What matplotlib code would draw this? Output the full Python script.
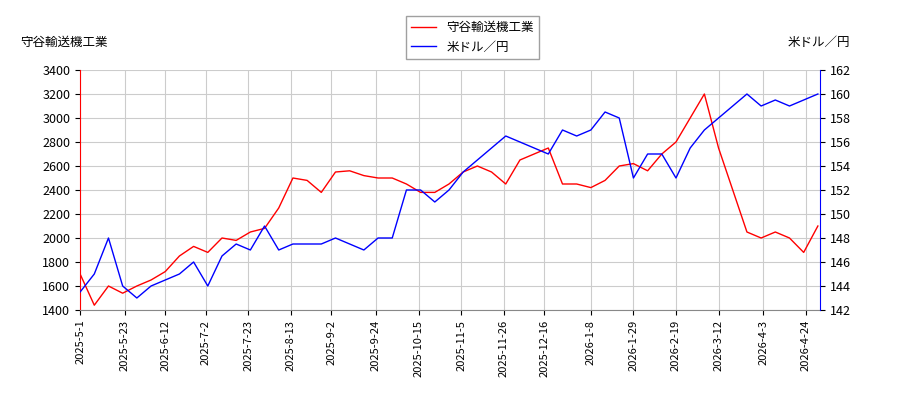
import matplotlib
matplotlib.use("Agg")
import matplotlib.pyplot as plt
import matplotlib.dates as mdates
import pandas as pd

plt.rcParams['font.family'] = ['Noto Sans CJK JP', 'DejaVu Sans']

stock_dates = pd.date_range("2025-05-01", periods=53, freq="7D")
stock = [1700,1440,1600,1540,1600,1650,1720,1850,1930,1880,2000,1980,2050,2080,2250,2500,
         2480,2380,2550,2560,2520,2500,2500,2450,2380,2380,2450,2550,2600,2550,2450,2650,
         2700,2750,2450,2450,2420,2480,2600,2620,2560,2700,2800,3000,3200,2750,2400,2050,
         2000,2050,2000,1880,2100]
fx = [143.5,145,148,144,143,144,144.5,145,146,144,146.5,147.5,147,149,147,147.5,147.5,
      147.5,148,147.5,147,148,148,152,152,151,152,153.5,154.5,155.5,156.5,156,155.5,155,
      157,156.5,157,158.5,158,153,155,155,153,155.5,157,158,159,160,159,159.5,159,159.5,160]
tick_labels = ["2025-5-1","2025-5-23","2025-6-12","2025-7-2","2025-7-23","2025-8-13","2025-9-2",
               "2025-9-24","2025-10-15","2025-11-5","2025-11-26","2025-12-16","2026-1-8",
               "2026-1-29","2026-2-19","2026-3-12","2026-4-3","2026-4-24"]

fig = plt.figure(figsize=(9, 4), dpi=100)
ax = fig.add_axes([0.089, 0.225, 0.822, 0.6])
ax2 = ax.twinx()
l1, = ax.plot(stock_dates, stock, color="red", lw=1, label="守谷輸送機工業")
l2, = ax2.plot(stock_dates, fx, color="blue", lw=1, label="米ドル／円")
ax.set_ylim(1400, 3400)
ax.set_yticks(range(1400, 3401, 200))
ax2.set_ylim(142, 162)
ax2.set_yticks(range(142, 163, 2))
ax.set_xlim(pd.Timestamp("2025-05-01"), pd.Timestamp("2026-05-01"))
ticks = [pd.Timestamp(t) for t in tick_labels]
ax.set_xticks(ticks)
ax.set_xticklabels(tick_labels, rotation=90, fontsize=8)
ax.grid(True, color="#cccccc", lw=0.8)
for a in (ax, ax2):
    a.tick_params(labelsize=9)
    for s in a.spines.values():
        s.set_visible(False)
ax.spines['left'].set_visible(True); ax.spines['left'].set_color('red')
ax2.spines['right'].set_visible(True); ax2.spines['right'].set_color('blue')
ax.spines['bottom'].set_visible(True); ax.spines['bottom'].set_color('#888888')
ax.tick_params(axis='x', labelsize=8)
fig.text(0.022, 0.885, "守谷輸送機工業", fontsize=9)
fig.text(0.945, 0.885, "米ドル／円", fontsize=9, ha="right")
fig.legend(handles=[l1, l2], loc="upper center", bbox_to_anchor=(0.525, 0.975),
           fontsize=9, frameon=True, fancybox=False, edgecolor="#888888")
fig.savefig("out.png")
